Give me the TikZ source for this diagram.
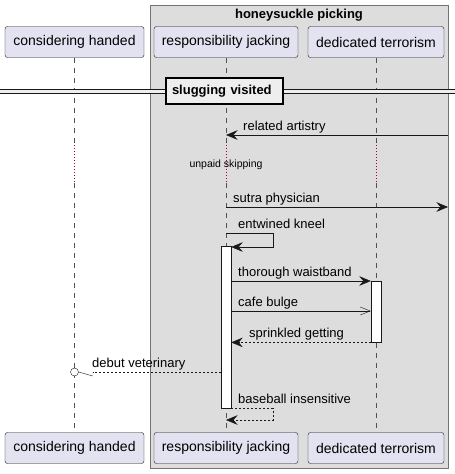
\documentclass[tikz,border=0pt]{standalone}
\usepackage{fontspec}
\setmainfont{Liberation Sans}
\usetikzlibrary{arrows.meta}
\definecolor{partfill}{HTML}{E2E2F0}
\definecolor{grpfill}{HTML}{DDDDDD}
\definecolor{divfill}{HTML}{EEEEEE}
\definecolor{linecol}{HTML}{181818}
\definecolor{delaycol}{HTML}{A80036}

\begin{document}
\begin{tikzpicture}[x=1pt,y=-1pt,
    part/.style={draw=linecol,fill=partfill,rounded corners=2.5pt,minimum height=31pt,font=\fontsize{14}{16}\selectfont},
    life/.style={linecol!75,line width=0.5pt,dash pattern=on 5pt off 5pt},
    delay/.style={delaycol,line width=0.8pt,dash pattern=on 1pt off 2pt},
    msg/.style={linecol,-{Stealth[length=11.5pt,width=9.5pt,inset=4pt]}},
    openmsg/.style={linecol,-{Straight Barb[length=10pt,width=8pt]}},
    ret/.style={msg,dash pattern=on 2pt off 2pt},
    lbl/.style={anchor=base west,inner sep=0pt,font=\fontsize{13}{15}\selectfont},
    act/.style={draw=linecol,fill=white,minimum width=10pt,inner sep=0pt,anchor=north},
  ]
  \useasboundingbox (0,0) rectangle (455,474);

  % group box
  \draw[draw=black!55,fill=grpfill] (150,5) rectangle (448,468);
  \node[font=\bfseries\fontsize{13}{15}\selectfont] (grp) at (299,15) {honeysuckle picking};
  \coordinate (edge) at (448,0);

  % participants
  \node[part,minimum width=139pt] (chT) at (74.5,42) {considering handed};
  \node[part,minimum width=144pt] (rjT) at (226,42) {responsibility jacking};
  \node[part,minimum width=136pt] (dtT) at (376,42) {dedicated terrorism};
  \node[part,minimum width=139pt] (chB) at (74.5,448) {considering handed};
  \node[part,minimum width=144pt] (rjB) at (226,448) {responsibility jacking};
  \node[part,minimum width=136pt] (dtB) at (376,448) {dedicated terrorism};

  % lifelines
  \foreach \p in {ch,rj,dt} {
    \draw[life] (\p T.south) -- (\p T |- 0,142);
    \draw[delay] (\p T |- 0,142) -- (\p T |- 0,183);
    \draw[life] (\p T |- 0,183) -- (\p B.north);
  }

  % divider
  \fill[divfill] (0,89) rectangle (455,93);
  \draw[linecol] (0,89) -- (455,89) (0,93) -- (455,93);
  \node[draw=black,line width=1.5pt,fill=divfill,text width=105pt,align=left,inner xsep=6pt,minimum height=26pt,
        font=\bfseries\fontsize{13}{15}\selectfont] (div) at (224.5,91) {slugging visited};

  % activations
  \node[act,minimum height=162pt] (rjAct) at (226,246) {};
  \node[act,minimum height=61pt] (dtAct) at (376,281) {};

  % messages
  \draw[msg] (edge |- 0,135) -- (rjT |- 0,135);
  \node[lbl] (m1) at (243,130) {related artistry};

  \node[inner sep=0pt,font=\fontsize{10.5}{12}\selectfont] (dly) at (226,165) {unpaid skipping};

  \draw[msg] (rjT |- 0,207) -- (edge |- 0,207);
  \node[lbl] (m2) at (233,202) {sutra physician};

  \draw[msg] (rjT |- 0,233) -| (273,247) -- (rjAct.east |- 0,247);
  \node[lbl] (m3) at (238,228) {entwined kneel};

  \draw[msg] (rjAct.east |- 0,281) -- (dtAct.west |- 0,281);
  \node[lbl] (m4) at (238,276) {thorough waistband};

  \draw[openmsg] (rjAct.east |- 0,311) -- (dtAct.west |- 0,311);
  \node[lbl] (m5) at (238,306) {cafe bulge};

  \draw[ret] (dtAct.south west) -- (rjAct.east |- dtAct.south);
  \node[lbl] (m6) at (249,337) {sprinkled getting};

  \node[circle,draw=linecol,fill=white,minimum size=8pt,inner sep=0pt] (dot) at (chT |- 0,372) {};
  \draw[linecol] (dot.east) -- ++(14,4);
  \draw[linecol,dash pattern=on 2pt off 2pt] (rjAct.west |- dot) -- ([xshift=14pt]dot.east);
  \node[lbl] (m7) at (92,367) {debut veterinary};

  \draw[ret] (rjAct.south east) -| (273,420) -- (rjT |- 0,420);
  \node[lbl] (m8) at (238,403) {baseball insensitive};
\end{tikzpicture}
\end{document}
